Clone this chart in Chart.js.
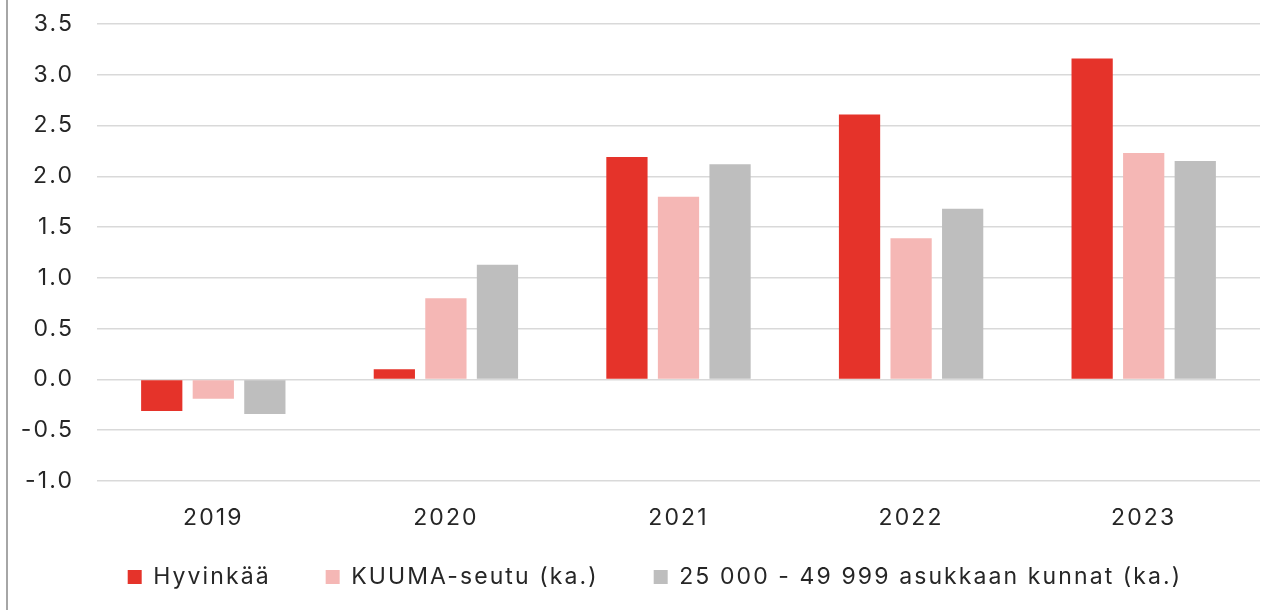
<!DOCTYPE html>
<html>
<head>
<meta charset="utf-8">
<title>Hyvinkää</title>
<script src="https://cdn.jsdelivr.net/npm/chart.js@4/dist/chart.umd.min.js"></script>
<style>
    html, body { margin: 0; padding: 0; background: #fff; }
    .frame { position: relative; width: 1268px; height: 610px; box-sizing: border-box; }
    .frame::before { content: ''; position: absolute; left: 6px; top: 0; bottom: 0; width: 2px; background: #a6a6a6; }
    canvas { display: block; }
</style>
</head>
<body>
<div class="frame"><canvas id="chart" width="1268" height="610"></canvas></div>
<script>
var years = ['2019', '2020', '2021', '2022', '2023'];
var hyvinkaa = [-0.31, 0.1, 2.19, 2.61, 3.16];
var kuuma = [-0.19, 0.8, 1.8, 1.39, 2.23];
var kunnat = [-0.34, 1.13, 2.12, 1.68, 2.15];
var seriesNames = ['Hyvinkää', 'KUUMA-seutu (ka.)', '25 000 - 49 999 asukkaan kunnat (ka.)'];

(function () {
    'use strict';

    var FONT = 'Inter, "Open Sans", sans-serif';
    var colors = ['#e5332a', '#f5b7b5', '#bebebe'];

    function dataset(i, values) {
        return {
            label: seriesNames[i],
            data: values,
            backgroundColor: colors[i],
            borderWidth: 0,
            categoryPercentage: 0.665,
            barPercentage: 0.8
        };
    }

    // wider letters, closer to the original's typeface
    var spacingPlugin = {
        id: 'spacing',
        beforeLayout: function (chart) { chart.ctx.letterSpacing = '2.1px'; }
    };

    Chart.defaults.font.family = FONT;
    Chart.defaults.color = '#262626';

    new Chart(document.getElementById('chart'), {
        type: 'bar',
        data: {
            labels: years,
            datasets: [dataset(0, hyvinkaa), dataset(1, kuuma), dataset(2, kunnat)]
        },
        plugins: [spacingPlugin],
        options: {
            responsive: false,
            animation: false,
            layout: { padding: { top: 24, right: 8, bottom: 11.5, left: 50 } },
            plugins: {
                tooltip: { enabled: false },
                legend: {
                    position: 'bottom',
                    labels: {
                        boxWidth: 14,
                        boxHeight: 14,
                        padding: 55,
                        font: { size: 23 },
                        color: '#262626'
                    }
                }
            },
            scales: {
                x: {
                    grid: { display: false, drawTicks: false },
                    border: { display: false },
                    ticks: { padding: 23, font: { size: 23 }, color: '#262626' },
                    afterFit: function (scale) { scale.height = 29.5; },
                    // let the year labels spill below the short axis box
                    afterUpdate: function (scale) { scale._computeLabelArea = function () {}; }
                },
                y: {
                    min: -1,
                    max: 3.5,
                    grid: { color: '#d9d9d9', lineWidth: 1.5, drawTicks: false },
                    border: { display: false },
                    ticks: {
                        stepSize: 0.5,
                        padding: 23,
                        font: { size: 23 },
                        color: '#262626',
                        callback: function (v) { return v.toFixed(1); }
                    },
                    afterFit: function (scale) {
                        scale.width = 47;
                        scale.paddingTop = 0;
                        scale.paddingBottom = 0;
                    },
                    afterUpdate: function (scale) { scale._computeLabelArea = function () {}; }
                }
            }
        }
    });
})();
</script>
</body>
</html>
